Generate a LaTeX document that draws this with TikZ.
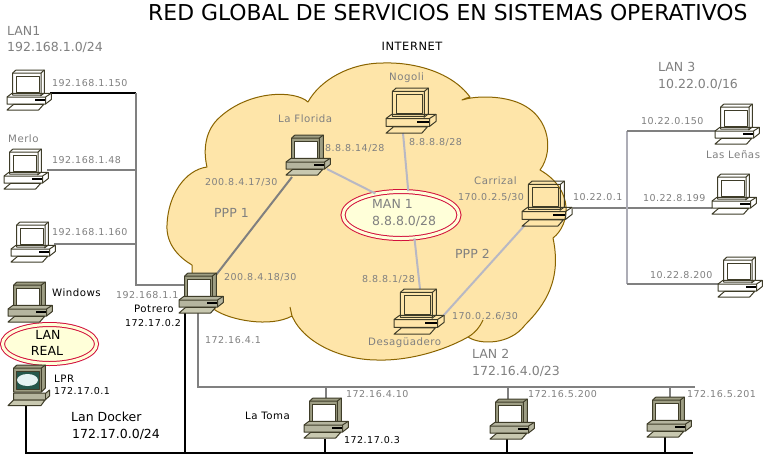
\documentclass[tikz,border=0pt]{standalone}
\usepackage{fontspec}
\setmainfont{DejaVu Sans}
\newfontfamily\smfont[LetterSpace=5]{DejaVu Sans}
\definecolor{labgray}{HTML}{808080}
\definecolor{pcdark}{HTML}{3E3C28}
\definecolor{pcbody}{HTML}{B5B59F}
\definecolor{pcmon}{HTML}{9E9E84}
\definecolor{pckey}{HTML}{C8C8B0}
\definecolor{cloudfill}{HTML}{FEE5A9}
\definecolor{cloudline}{HTML}{8A6400}
\definecolor{ellred}{HTML}{D2103C}
\definecolor{ellfill}{HTML}{FFFFD9}
\definecolor{linegray}{HTML}{808080}
\definecolor{linelight}{HTML}{B8B8C4}
\tikzset{
  lab/.style={anchor=base west,inner sep=0pt,yshift=-3.5pt,text=labgray,font=\smfont\fontsize{9.5}{11}\selectfont},
  nam/.style={lab,font=\smfont\fontsize{10.2}{12}\selectfont},
  blab/.style={lab,text=black},
  bnam/.style={nam,text=black},
  big/.style={anchor=base west,inner sep=0pt,yshift=-4.5pt,text=labgray,font=\fontsize{12.5}{15}\selectfont},
  bigk/.style={big,text=black},
  lnk/.style={draw=linegray,line width=2pt},
  lnkl/.style={draw=linelight,line width=2pt},
  lnkb/.style={draw=black,line width=2.5pt},
  redell/.style={ellipse,draw=ellred,fill=ellfill,line width=1pt,double=ellfill,double distance=3pt,inner sep=0pt},
  pcsolid/.pic={
    \begin{scope}[draw=pcdark,line width=1pt,line join=round]
      \filldraw[fill=pcmon] (5.7,3) -- (9,0) -- (37.4,0) -- (37.4,23) -- (33.4,26) -- (5.7,26) -- cycle;
      \draw (33.4,26) -- (33.4,3) -- (5.7,3) (33.4,3) -- (37.4,0);
      \filldraw[fill=white] (8.4,6) rectangle (31,23.5);
      \filldraw[fill=pcbody] (0,27) -- (5,23.3) -- (44.3,23.3) -- (44.3,29.5) -- (38.5,34) -- (0,34) -- cycle;
      \draw (0,27) -- (38.5,27) -- (44.3,23.3) (38.5,27) -- (38.5,34);
      \fill[black] (27.7,29) rectangle (37.7,30.7);
      \filldraw[fill=pckey] (6.7,34.3) -- (36.7,34.3) -- (31.7,40) -- (0,40) -- cycle;
    \end{scope}
  },
  pcwire/.pic={
    \begin{scope}[draw=pcdark,line width=1pt,line join=round]
      \draw (5.7,3) -- (9,0) -- (37.4,0) -- (37.4,23) -- (33.4,26);
      \draw (5.7,25) rectangle (34,3) (34,3) -- (37.4,0);
      \draw (9,22.5) rectangle (32,6);
      \draw (0,27) -- (5,23.3) -- (44.3,23.3) -- (44.3,29.5) -- (38.5,34) -- (0,34) -- cycle;
      \draw (0,27) -- (38.5,27) -- (44.3,23.3) (38.5,27) -- (38.5,34);
      \fill[black] (27.7,29) rectangle (37.7,30.7);
      \draw (6.7,34.3) -- (36.7,34.3) -- (31.7,40) -- (0,40) -- cycle;
    \end{scope}
  },
  pccloud/.pic={
    \begin{scope}[draw=pcdark,line width=1pt,line join=round]
      \filldraw[fill=pcmon] (5.7,3) -- (9,0) -- (37.4,0) -- (37.4,23) -- (33.4,27) -- (5.7,27) -- cycle;
      \draw (33.4,27) -- (33.4,3) -- (5.7,3) (33.4,3) -- (37.4,0);
      \filldraw[fill=pcdark!60!teal] (8.4,6) rectangle (31,24);
      \fill[white!90!teal] (19.5,15) ellipse (10.5 and 6);
      \filldraw[fill=pcbody] (5.7,28) -- (38,28) -- (41.5,25) -- (41.5,31) -- (37,35) -- (5.7,35) -- cycle;
      \draw (37,28) -- (37,35);
      \filldraw[fill=pckey] (5.7,35) -- (37,35) -- (33,40.5) -- (0,40.5) -- cycle;
    \end{scope}
  }
}
\usetikzlibrary{shapes.geometric}
\begin{document}
\begin{tikzpicture}[x=1pt,y=-1pt]
\useasboundingbox (0,0) rectangle (764,456);
\fill[white] (0,0) rectangle (764,456);
% cloud
\filldraw[fill=cloudfill,draw=cloudline,line width=1pt,line join=round]
 (192,265) -- (192,273) -- (215,310)
 .. controls (230,320) and (270,328) .. (292,316)
 .. controls (305,345) and (345,360) .. (377,360)
 .. controls (410,361) and (445,350) .. (468,337)
 .. controls (480,345) and (510,345) .. (525,325)
 .. controls (545,305) and (562,280) .. (553,238)
 .. controls (570,225) and (575,190) .. (540,170)
 .. controls (555,150) and (550,110) .. (510,100)
 .. controls (495,96) and (475,96) .. (462,100)
 .. controls (465,98) and (468,98) .. (470,97)
 .. controls (450,70) and (410,62) .. (383,63)
 .. controls (350,63) and (320,80) .. (308,102)
 .. controls (295,90) and (250,90) .. (220,117)
 .. controls (205,130) and (203,150) .. (207,167)
 .. controls (185,170) and (168,195) .. (167,225)
 .. controls (166,245) and (180,258) .. (192,265) -- cycle;
\draw[cloudline,line width=1pt] (468,337) .. controls (475,333) and (480,327) .. (483,320);
\draw[cloudline,line width=1pt] (290,307) -- (292,316);
% coordinates for connector ends
\coordinate (lanA) at (136,93);
\coordinate (lanB) at (136,285);
\coordinate (p150) at (50,93);
\coordinate (p48) at (47,170);
\coordinate (p160) at (54,244);
\coordinate (j48) at (136,170);
\coordinate (j160) at (136,244);
\coordinate (potW) at (185,285);
\coordinate (potNE) at (216,275);
\coordinate (floSW) at (292,177);
\coordinate (floSE) at (327,169);
\coordinate (nogS) at (403,133);
\coordinate (desN) at (420,289);
\coordinate (desE) at (443,316);
\coordinate (carSW) at (525,225);
\coordinate (carE) at (573,208);
\coordinate (p199) at (712,208);
\coordinate (top3) at (627,131);
\coordinate (bot3) at (627,284);
\coordinate (p150b) at (715,131);
\coordinate (p200) at (718,284);
\coordinate (potS) at (198,313);
\coordinate (c2) at (198,387);
\coordinate (e2) at (695,387);
\coordinate (t2) at (326,387);
\coordinate (u2) at (508,387);
\coordinate (v2) at (670,387);
\coordinate (t2b) at (326,399);
\coordinate (u2b) at (508,399);
\coordinate (v2b) at (670,398);
\coordinate (lprS) at (26,406);
\coordinate (lprB) at (26,453);
\coordinate (potS2) at (185,313);
\coordinate (potB) at (185,453);
\coordinate (ebk) at (693,453);
\coordinate (tS) at (325,439);
\coordinate (tB) at (325,453);
\coordinate (uS) at (507,439);
\coordinate (uB) at (507,453);
\coordinate (vS) at (665,437);
\coordinate (vB) at (665,453);
% ellipses
\node[redell,minimum width=116pt,minimum height=47pt] (man) at (401,215) {};
\node[redell,minimum width=94pt,minimum height=39pt] (real) at (49.5,344) {};
% connectors
\draw[lnkb,line width=2pt] (p150) -- (lanA);
\draw[lnk] (lanA) -- (lanB) -- (potW);
\draw[lnk] (p48) -- (j48);
\draw[lnk] (p160) -- (j160);
\draw[lnk] (potNE) -- (floSW);
\draw[lnkl] (floSE) -- (man.140);
\draw[lnkl] (nogS) -- (man.73);
\draw[lnkl] (man.-60) -- (desN);
\draw[lnkl] (desE) -- (carSW);
\draw[lnk] (carE) -- (p199);
\draw[draw=linelight!80!gray,line width=2pt] (top3) -- (bot3);
\draw[lnk] (top3) -- (p150b);
\draw[lnk] (bot3) -- (p200);
\draw[lnk] (potS) -- (c2) -- (e2);
\draw[lnk] (t2) -- (t2b);
\draw[lnk] (u2) -- (u2b);
\draw[lnk] (v2) -- (v2b);
\draw[lnkb] (lprS) -- (lprB) -- (ebk);
\draw[lnkb] (potS2) -- (potB);
\draw[lnkb] (tS) -- (tB);
\draw[lnkb] (uS) -- (uB);
\draw[lnkb] (vS) -- (vB);
% computers
\path (7,70) pic {pcwire};
\path (4,149) pic {pcwire};
\path (11,222) pic {pcwire};
\path (8,282) pic {pcsolid};
\path (8,365) pic {pccloud};
\path (179,273) pic {pcsolid};
\path (286,135) pic {pcsolid};
\path (386,88) pic[scale=1.13] {pcwire};
\path (522,181) pic[scale=1.13] {pcwire};
\path (394,289) pic[scale=1.13] {pcwire};
\path (715,104) pic {pcwire};
\path (712,174) pic {pcwire};
\path (718,257) pic {pcwire};
\path (304,398) pic {pcsolid};
\path (490,399) pic {pcsolid};
\path (647,397) pic {pcsolid};
% texts
\node[anchor=base west,inner sep=0pt,font=\fontsize{21.9}{25}\selectfont] (title) at (148,20) {RED GLOBAL DE SERVICIOS EN SISTEMAS OPERATIVOS};
\node[anchor=center,inner sep=0pt,font=\smfont\fontsize{11.4}{13}\selectfont] (inet) at (412,46) {INTERNET};
\node[big] (l1a) at (7,31) {LAN1};
\node[big] (l1b) at (7,47) {192.168.1.0/24};
\node[big] (l3a) at (658,67) {LAN 3};
\node[big] (l3b) at (658,84) {10.22.0.0/16};
\node[big] (l2a) at (472,354) {LAN 2};
\node[big] (l2b) at (472,371) {172.16.4.0/23};
\node[big] (ppp1) at (214,213) {PPP 1};
\node[big] (ppp2) at (455,254) {PPP 2};
\node[big] (mana) at (372,204) {MAN 1};
\node[big] (manb) at (372,221) {8.8.8.0/28};
\node[bigk] (ldka) at (71,417) {Lan Docker};
\node[bigk] (ldkb) at (72,434) {172.17.0.0/24};
\node[inner sep=0pt,font=\fontsize{12.5}{15}\selectfont] (rla) at (48,335) {LAN};
\node[inner sep=0pt,font=\fontsize{12.5}{15}\selectfont] (rlb) at (47,351) {REAL};
\node[lab] (a1) at (52,83) {192.168.1.150};
\node[nam] (a2) at (8,139) {Merlo};
\node[lab] (a3) at (52,160) {192.168.1.48};
\node[lab] (a4) at (52,232) {192.168.1.160};
\node[bnam] (a5) at (52,293) {Windows};
\node[lab] (a6) at (116,295) {192.168.1.1};
\node[bnam] (a7) at (134,309) {Potrero};
\node[blab] (a8) at (125,323) {172.17.0.2};
\node[bnam] (a9) at (54,379) {LPR};
\node[blab] (a10) at (54,391) {172.17.0.1};
\node[lab] (a11) at (205,340) {172.16.4.1};
\node[lab] (a12) at (224,277) {200.8.4.18/30};
\node[lab] (a13) at (205,182) {200.8.4.17/30};
\node[nam] (a14) at (278,119) {La Florida};
\node[lab] (a15) at (325,148) {8.8.8.14/28};
\node[nam] (a16) at (389,77) {Nogoli};
\node[lab] (a17) at (409,142) {8.8.8.8/28};
\node[nam] (a18) at (474,181) {Carrizal};
\node[lab] (a19) at (458,197) {170.0.2.5/30};
\node[lab] (a20) at (573,197) {10.22.0.1};
\node[lab] (a21) at (641,121) {10.22.0.150};
\node[nam] (a22) at (706,155) {Las Leñas};
\node[lab] (a23) at (643,198) {10.22.8.199};
\node[lab] (a24) at (650,275) {10.22.8.200};
\node[lab] (a25) at (362,279) {8.8.8.1/28};
\node[lab] (a26) at (452,316) {170.0.2.6/30};
\node[nam] (a27) at (368,342) {Desagüadero};
\node[lab] (a28) at (346,394) {172.16.4.10};
\node[lab] (a29) at (528,394) {172.16.5.200};
\node[lab] (a30) at (687,394) {172.16.5.201};
\node[bnam] (a31) at (245,416) {La Toma};
\node[blab] (a32) at (344,440) {172.17.0.3};
\end{tikzpicture}
\end{document}
